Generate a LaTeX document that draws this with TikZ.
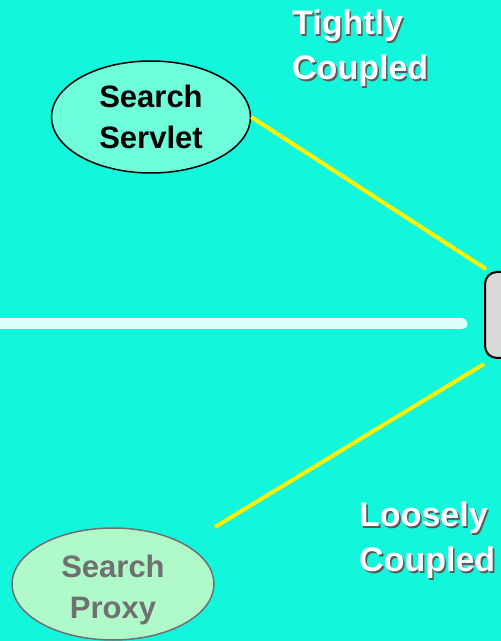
\documentclass[tikz,border=0pt]{standalone}
\usepackage{fontspec}
\setmainfont{Liberation Sans}
\usetikzlibrary{shapes.geometric}
\definecolor{bgc}{RGB}{18,247,220}
\definecolor{servletfill}{RGB}{110,255,218}
\definecolor{proxyfill}{RGB}{176,250,202}
\definecolor{proxytext}{RGB}{112,112,112}
\definecolor{barc}{RGB}{220,255,250}
\definecolor{dbfill}{RGB}{217,217,217}
\newcommand\shtxt[1]{\leavevmode\rlap{\kern1.6pt\raisebox{-1.6pt}{\color{black!65}#1}}{\color{white}#1}}
\tikzset{
  compnode/.style={ellipse, inner sep=0pt, align=center, line width=1.5pt,
    font=\fontsize{31}{41}\selectfont\bfseries},
  couplelabel/.style={anchor=north west, inner sep=0pt, align=left,
    font=\fontsize{34}{45}\selectfont\bfseries},
  link/.style={draw=yellow, line width=4pt}
}
\begin{document}
\begin{tikzpicture}[x=1pt,y=1pt]
\useasboundingbox (0,0) rectangle (501,641);
\fill[bgc] (0,0) rectangle (501,641);
% bus bar
\coordinate (barL) at (-10,317);
\coordinate (barR) at (462,317);
\draw[barc, line width=11pt, line cap=round] (barL) -- (barR);
% nodes
\node[compnode, draw=black, fill=servletfill, minimum width=199pt, minimum height=112pt] (servlet) at (151,524) {Search\\Servlet};
\node[compnode, draw=proxytext, text=proxytext, fill=proxyfill, minimum width=202pt, minimum height=112pt] (proxy) at (113,57) {\rule{0pt}{29pt}Search\\Pro\smash{xy}};
\node[draw=black, fill=dbfill, line width=2pt, rounded corners=12pt, minimum width=40pt, minimum height=86pt, inner sep=0pt] (db) at (505,326) {};
\coordinate (loosend) at (215,114);
% links
\draw[link] (servlet.east) -- ([shift={(2pt,2pt)}]db.north west);
\draw[link] ([yshift=-5pt]db.south west) -- (loosend);
% labels
\node[couplelabel] (tight) at (292,631) {\shtxt{Tightly}\\\shtxt{Coupled}};
\node[couplelabel] (loose) at (359,139) {\shtxt{Loosely}\\\shtxt{Coupled}};
\end{tikzpicture}
\end{document}
